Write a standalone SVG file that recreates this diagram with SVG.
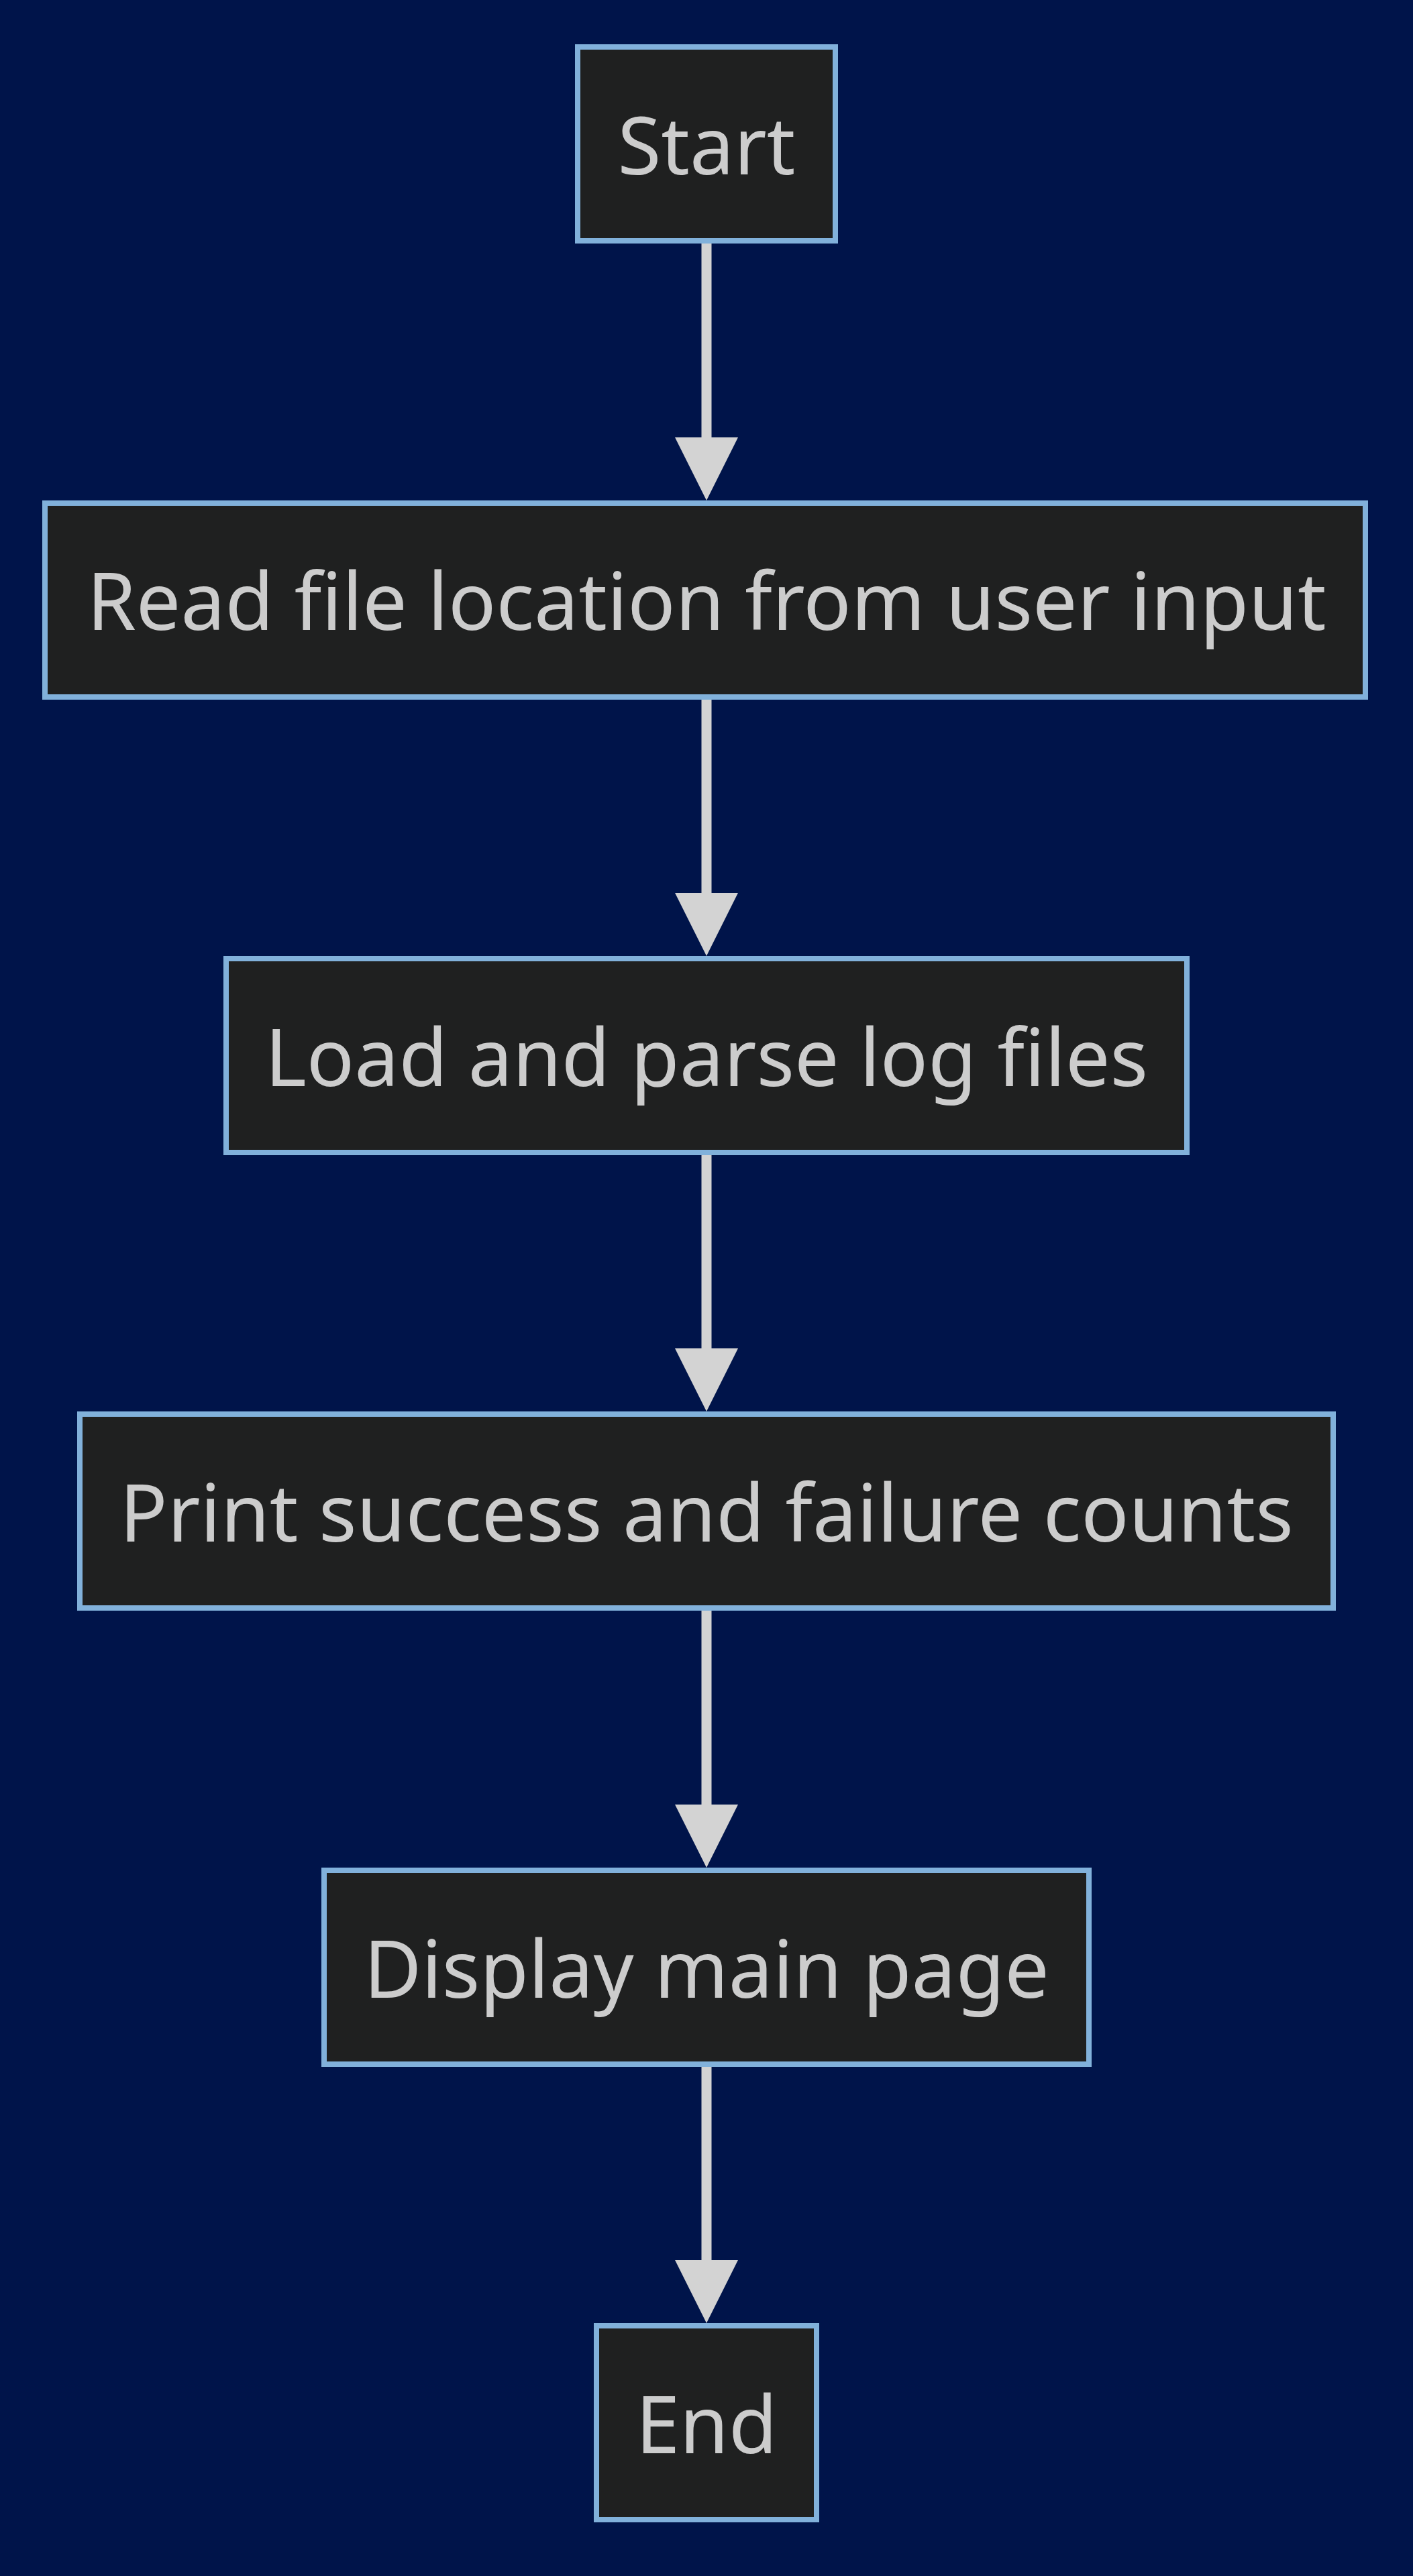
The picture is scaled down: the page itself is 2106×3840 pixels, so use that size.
<svg xmlns="http://www.w3.org/2000/svg" width="2106" height="3840" viewBox="0 0 2106 3840">
<style>
.node rect{fill:#1f2020;stroke:#81b1db;stroke-width:8}
.node text{fill:#cccccc;font-family:"Noto Sans","Open Sans","DejaVu Sans",sans-serif;font-size:118px;text-anchor:middle}
.edge line{stroke:#d3d3d3;stroke-width:15}
.edge polygon{fill:#d3d3d3}
</style>
<rect x="0" y="0" width="2106" height="3840" fill="#00144a"/>
<g id="connectors" class="edge">
<line x1="1053" y1="363" x2="1053" y2="655"/><polygon points="1006,652 1100,652 1053,746"/>
<line x1="1053" y1="1042" x2="1053" y2="1334"/><polygon points="1006,1331 1100,1331 1053,1425"/>
<line x1="1053" y1="1722" x2="1053" y2="2014"/><polygon points="1006,2010 1100,2010 1053,2104"/>
<line x1="1053" y1="2401" x2="1053" y2="2693"/><polygon points="1006,2690 1100,2690 1053,2784"/>
<line x1="1053" y1="3081" x2="1053" y2="3373"/><polygon points="1006,3369 1100,3369 1053,3463"/>
</g>
<g id="start" class="node"><rect x="861" y="70" width="384" height="289"/><text x="1053" y="260">Start</text></g>
<g id="read" class="node"><rect x="67" y="750" width="1968" height="289"/><text x="1053" y="939">Read file location from user input</text></g>
<g id="load" class="node"><rect x="337" y="1429" width="1432" height="289"/><text x="1053" y="1619">Load and parse log files</text></g>
<g id="print" class="node"><rect x="119" y="2108" width="1868" height="289"/><text x="1053" y="2298">Print success and failure counts</text></g>
<g id="display" class="node"><rect x="483" y="2788" width="1140" height="289"/><text x="1053" y="2978">Display main page</text></g>
<g id="end" class="node"><rect x="889" y="3467" width="328" height="289"/><text x="1053" y="3657">End</text></g>
</svg>
